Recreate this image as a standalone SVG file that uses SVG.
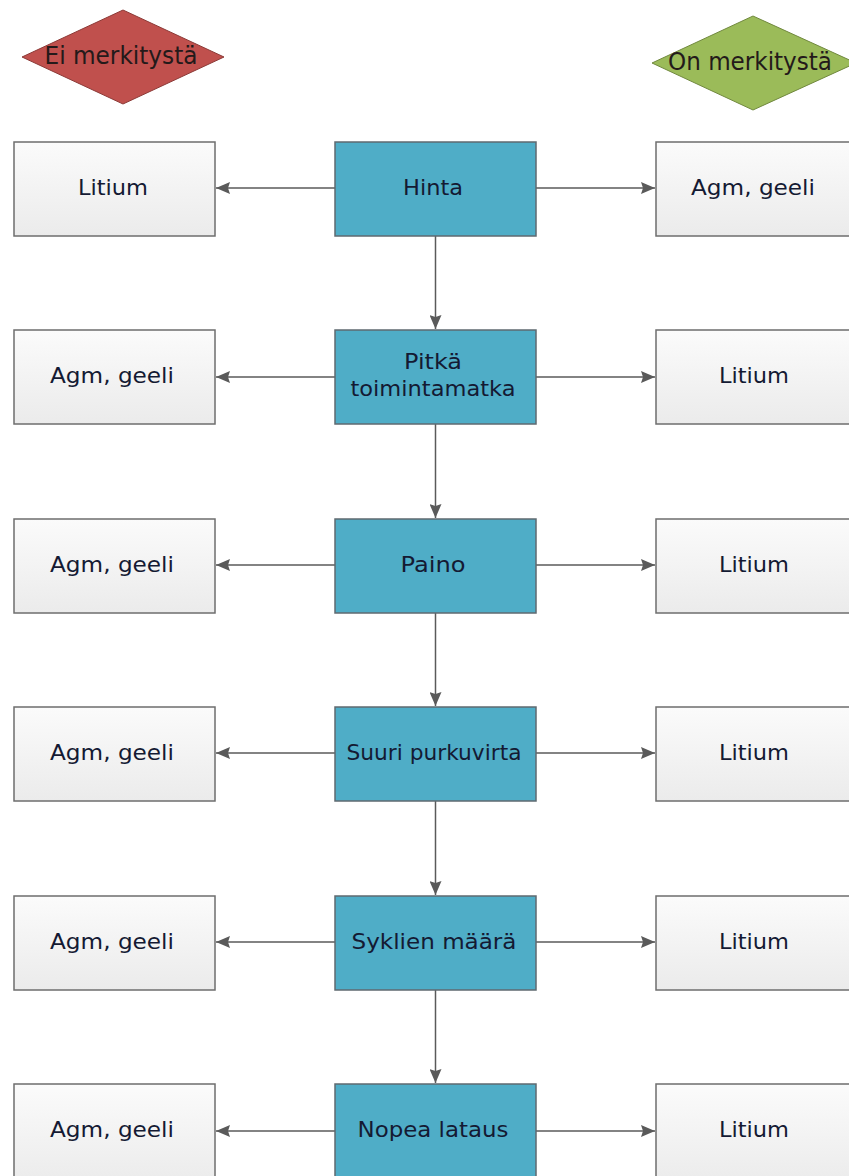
<svg xmlns="http://www.w3.org/2000/svg" width="849" height="1176" viewBox="0 0 849 1176">
<style>
.opt{fill:url(#g);stroke:#6e6e6e;stroke-width:1.5}
.crit{fill:#4fadc7;stroke:#5f6a70;stroke-width:1.5}
.t{font-family:"DejaVu Sans",Verdana,sans-serif;font-size:22px;fill:#141a33;text-anchor:middle}
.dt{font-family:"DejaVu Sans",Verdana,sans-serif;font-size:24px;fill:#241a1a;text-anchor:middle}
.c{stroke:#5a5a5a;stroke-width:1.5;fill:none;marker-end:url(#a)}
</style>
<defs>
<linearGradient id="g" x1="0" y1="0" x2="0" y2="1"><stop offset="0" stop-color="#fbfbfb"/><stop offset="1" stop-color="#ebebeb"/></linearGradient>
<marker id="a" markerWidth="14" markerHeight="12" refX="14" refY="6" orient="auto" markerUnits="userSpaceOnUse"><path d="M0,0L14,6L0,12L2,6z" fill="#5a5a5a"/></marker>
</defs>
<g id="legend-no"><polygon points="123,10 224,57 123,104 22,57" fill="#c0504d" stroke="#8c3a37" stroke-width="1"/><text class="dt" x="121" y="64" textLength="153" lengthAdjust="spacingAndGlyphs">Ei merkitystä</text></g>
<g id="legend-yes"><polygon points="753,16 856,63 753,110 652,63" fill="#9bbb59" stroke="#71893f" stroke-width="1"/><text class="dt" x="750" y="70" textLength="164" lengthAdjust="spacingAndGlyphs">On merkitystä</text></g>
<g id="connectors">
<path class="c" d="M335,188H216"/><path class="c" d="M536,188H655"/><path class="c" d="M435.5,236V329"/>
<path class="c" d="M335,377H216"/><path class="c" d="M536,377H655"/><path class="c" d="M435.5,424V518"/>
<path class="c" d="M335,565H216"/><path class="c" d="M536,565H655"/><path class="c" d="M435.5,613V706"/>
<path class="c" d="M335,753H216"/><path class="c" d="M536,753H655"/><path class="c" d="M435.5,801V895"/>
<path class="c" d="M335,942H216"/><path class="c" d="M536,942H655"/><path class="c" d="M435.5,990V1083"/>
<path class="c" d="M335,1131H216"/><path class="c" d="M536,1131H655"/>
</g>
<g id="hinta"><rect class="crit" x="335" y="142" width="201" height="94"/><text class="t" x="433" y="195" textLength="60" lengthAdjust="spacingAndGlyphs">Hinta</text></g>
<g id="hinta-left"><rect class="opt" x="14" y="142" width="201" height="94"/><text class="t" x="113" y="195" textLength="70" lengthAdjust="spacingAndGlyphs">Litium</text></g>
<g id="hinta-right"><rect class="opt" x="656" y="142" width="201" height="94"/><text class="t" x="753" y="195" textLength="124" lengthAdjust="spacingAndGlyphs">Agm, geeli</text></g>
<g id="toimintamatka"><rect class="crit" x="335" y="330" width="201" height="94"/><text class="t" x="433" y="369" textLength="58" lengthAdjust="spacingAndGlyphs">Pitkä</text><text class="t" x="433" y="396" textLength="165" lengthAdjust="spacingAndGlyphs">toimintamatka</text></g>
<g id="toimintamatka-left"><rect class="opt" x="14" y="330" width="201" height="94"/><text class="t" x="112" y="383" textLength="124" lengthAdjust="spacingAndGlyphs">Agm, geeli</text></g>
<g id="toimintamatka-right"><rect class="opt" x="656" y="330" width="201" height="94"/><text class="t" x="754" y="383" textLength="70" lengthAdjust="spacingAndGlyphs">Litium</text></g>
<g id="paino"><rect class="crit" x="335" y="519" width="201" height="94"/><text class="t" x="433" y="572" textLength="65" lengthAdjust="spacingAndGlyphs">Paino</text></g>
<g id="paino-left"><rect class="opt" x="14" y="519" width="201" height="94"/><text class="t" x="112" y="572" textLength="124" lengthAdjust="spacingAndGlyphs">Agm, geeli</text></g>
<g id="paino-right"><rect class="opt" x="656" y="519" width="201" height="94"/><text class="t" x="754" y="572" textLength="70" lengthAdjust="spacingAndGlyphs">Litium</text></g>
<g id="purkuvirta"><rect class="crit" x="335" y="707" width="201" height="94"/><text class="t" x="434" y="760" textLength="175" lengthAdjust="spacingAndGlyphs">Suuri purkuvirta</text></g>
<g id="purkuvirta-left"><rect class="opt" x="14" y="707" width="201" height="94"/><text class="t" x="112" y="760" textLength="124" lengthAdjust="spacingAndGlyphs">Agm, geeli</text></g>
<g id="purkuvirta-right"><rect class="opt" x="656" y="707" width="201" height="94"/><text class="t" x="754" y="760" textLength="70" lengthAdjust="spacingAndGlyphs">Litium</text></g>
<g id="syklit"><rect class="crit" x="335" y="896" width="201" height="94"/><text class="t" x="434" y="949" textLength="165" lengthAdjust="spacingAndGlyphs">Syklien määrä</text></g>
<g id="syklit-left"><rect class="opt" x="14" y="896" width="201" height="94"/><text class="t" x="112" y="949" textLength="124" lengthAdjust="spacingAndGlyphs">Agm, geeli</text></g>
<g id="syklit-right"><rect class="opt" x="656" y="896" width="201" height="94"/><text class="t" x="754" y="949" textLength="70" lengthAdjust="spacingAndGlyphs">Litium</text></g>
<g id="lataus"><rect class="crit" x="335" y="1084" width="201" height="100"/><text class="t" x="433" y="1137" textLength="151" lengthAdjust="spacingAndGlyphs">Nopea lataus</text></g>
<g id="lataus-left"><rect class="opt" x="14" y="1084" width="201" height="100"/><text class="t" x="112" y="1137" textLength="124" lengthAdjust="spacingAndGlyphs">Agm, geeli</text></g>
<g id="lataus-right"><rect class="opt" x="656" y="1084" width="201" height="100"/><text class="t" x="754" y="1137" textLength="70" lengthAdjust="spacingAndGlyphs">Litium</text></g>
</svg>
